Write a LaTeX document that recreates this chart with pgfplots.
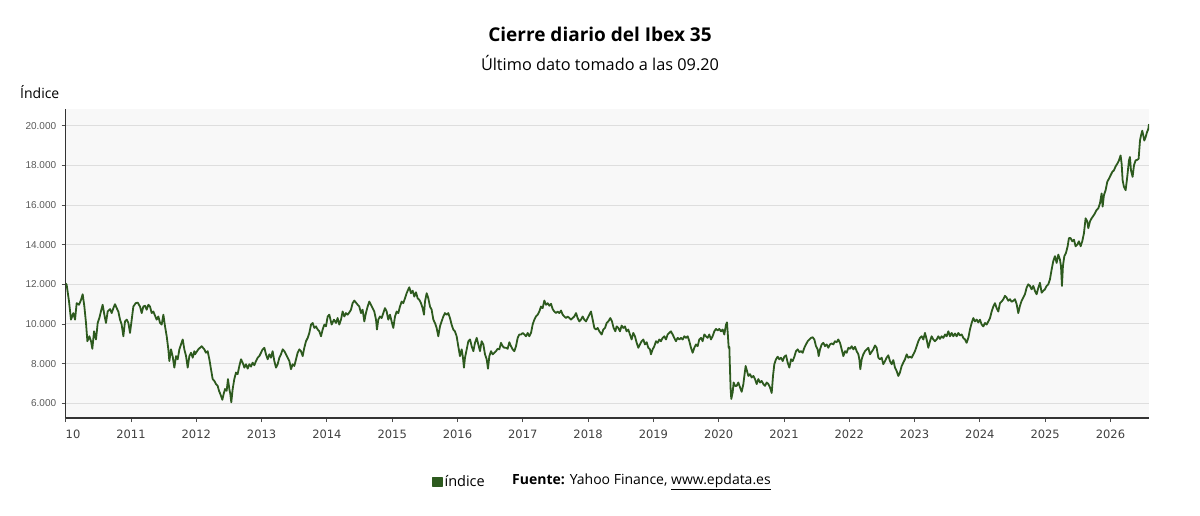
\documentclass[border=0pt]{standalone}
\usepackage{fontspec}
\setmainfont{Open Sans}
\newfontfamily\tickfont{Liberation Sans}
\newfontfamily\xtickfont{DejaVu Sans}
\usepackage{pgfplots}
\pgfplotsset{compat=1.18}
\definecolor{ibex}{HTML}{2D5A1E}
\definecolor{plotbg}{RGB}{248,248,248}
\definecolor{gridc}{RGB}{222,222,222}
\begin{document}
\begin{tikzpicture}[x=1pt,y=1pt]
\path[use as bounding box] (0pt,0pt) rectangle (1200pt,515pt);
\node[font=\fontsize{19}{22}\selectfont\bfseries] at (600pt,481pt) {Cierre diario del Ibex 35};
\node[font=\fontsize{16.3}{19}\selectfont] at (600pt,452pt) {Último dato tomado a las 09.20};
\node[font=\fontsize{14}{16}\selectfont, anchor=west, inner sep=0pt] at (20pt,423pt) {Índice};
\node[font=\fontsize{14}{16}\selectfont, anchor=west, inner sep=0pt] at (512pt,33pt) {\textbf{Fuente:} Yahoo Finance, \underline{www.epdata.es}};
\begin{axis}[
  at={(65.7pt,97pt)}, anchor=south west,
  width=1083.3pt, height=309pt, scale only axis,
  xmin=2010, xmax=2026.59, ymin=5259, ymax=20842,
  axis x line*=bottom, axis y line*=left,
  axis line style={-},
  x axis line style={draw=black!80, line width=1.5pt},
  y axis line style={draw=black!80, line width=1.5pt},
  axis background/.style={fill=plotbg},
  ymajorgrids, major grid style={draw=gridc, line width=1pt},
  ytick={6000,8000,...,20000},
  scaled y ticks=false,
  xtick={2010,2011,...,2026},
  xticklabels={\phantom{20}10,2011,2012,2013,2014,2015,2016,2017,2018,2019,2020,2021,2022,2023,2024,2025,2026},
  tick align=outside,
  major tick length=4pt,
  tick style={draw=black!70, line width=0.8pt},
  /pgf/number format/assume math mode=true,
  /pgf/number format/.cd, 1000 sep={.}, /pgfplots/.cd,
  yticklabel style={font=\tickfont\fontsize{10}{12}\selectfont, text=black!65, xshift=-2pt},
  xticklabel style={font=\xtickfont\fontsize{11.5}{13}\selectfont, text=black!75, yshift=-4pt},
  legend style={at={(axis description cs:0.335,-0.207)}, anchor=west, draw=none, fill=none, font=\fontsize{14.5}{16}\selectfont},
  legend image code/.code={\fill[ibex] (0pt,-4.5pt) rectangle (9pt,4.5pt);},
]
\addplot[ibex, line width=1.8pt, line join=round] coordinates {
(2010.000,12050) (2010.015,11970) (2010.051,11130) (2010.081,10220) (2010.117,10550) (2010.143,10220) (2010.168,11050) (2010.204,10970) (2010.235,11220) (2010.260,11500) (2010.286,10880) (2010.311,10050) (2010.332,9130) (2010.362,9380) (2010.388,9130) (2010.408,8750) (2010.434,9630) (2010.464,9220) (2010.490,10050) (2010.515,10300) (2010.546,10720) (2010.566,10970) (2010.592,10470) (2010.617,10050) (2010.643,10630) (2010.679,10750) (2010.704,10550) (2010.730,10800) (2010.755,11000) (2010.781,10800) (2010.806,10630) (2010.832,10220) (2010.857,9970) (2010.883,9380) (2010.908,10130) (2010.934,10220) (2010.960,10050) (2010.985,9550) (2011.011,10220) (2011.036,10880) (2011.072,11050) (2011.102,11080) (2011.138,10880) (2011.164,10550) (2011.189,10880) (2011.215,10920) (2011.240,10720) (2011.266,10970) (2011.291,10880) (2011.317,10550) (2011.342,10630) (2011.368,10420) (2011.393,10220) (2011.419,10380) (2011.445,10050) (2011.470,9970) (2011.496,10470) (2011.521,9880) (2011.547,9380) (2011.572,8720) (2011.587,8130) (2011.613,8720) (2011.639,8350) (2011.664,7800) (2011.690,8380) (2011.715,8220) (2011.741,8720) (2011.766,8970) (2011.792,9220) (2011.817,8720) (2011.843,8380) (2011.868,7800) (2011.894,8380) (2011.919,8550) (2011.945,8300) (2011.970,8630)
(2011.980,8470) (2012.031,8720) (2012.082,8880) (2012.123,8720) (2012.148,8550) (2012.174,8630) (2012.200,8220) (2012.225,7720) (2012.251,7220) (2012.276,7130) (2012.302,6970) (2012.327,6880) (2012.348,6630) (2012.378,6380) (2012.399,6180) (2012.419,6470) (2012.440,6720) (2012.465,6630) (2012.485,7220) (2012.506,6720) (2012.521,6470) (2012.536,6050) (2012.557,6720) (2012.582,7220) (2012.608,7550) (2012.633,7470) (2012.659,7880) (2012.685,8220) (2012.710,8050) (2012.736,7800) (2012.761,7970) (2012.787,7750) (2012.812,7970) (2012.838,7850) (2012.863,8050) (2012.889,7920) (2012.914,8130) (2012.940,8300) (2012.965,8380) (2012.991,8550) (2013.016,8720) (2013.042,8800) (2013.067,8470) (2013.093,8220) (2013.118,8470) (2013.144,8300) (2013.169,8630) (2013.195,8130) (2013.221,7800) (2013.246,7970) (2013.272,8300) (2013.297,8470) (2013.323,8720) (2013.348,8630) (2013.374,8470) (2013.399,8300) (2013.425,8130) (2013.450,7720) (2013.476,7970) (2013.501,7880) (2013.527,8220) (2013.552,8550) (2013.578,8720) (2013.603,8630) (2013.629,8380) (2013.654,8800) (2013.680,9130) (2013.706,9300) (2013.731,9550) (2013.757,9970) (2013.782,10050) (2013.808,9800) (2013.833,9880) (2013.859,9720) (2013.884,9630) (2013.910,9380) (2013.935,9720) (2013.961,9970) (2013.986,9880) (2014.012,10380) (2014.037,10470)
(2014.073,9970) (2014.108,10220) (2014.139,10050) (2014.164,10300) (2014.190,9970) (2014.216,10220) (2014.241,10630) (2014.267,10380) (2014.292,10550) (2014.318,10470) (2014.343,10580) (2014.369,10720) (2014.394,11050) (2014.420,11180) (2014.445,11080) (2014.471,10970) (2014.496,10880) (2014.522,10550) (2014.547,10720) (2014.573,10130) (2014.598,10550) (2014.624,10880) (2014.649,11130) (2014.675,10970) (2014.700,10800) (2014.726,10630) (2014.752,10220) (2014.767,9720) (2014.787,10220) (2014.813,10380) (2014.838,10300) (2014.864,10550) (2014.889,10800) (2014.915,10630) (2014.940,10220) (2014.966,10470) (2014.991,10130) (2015.017,9800) (2015.043,10380) (2015.068,10630) (2015.094,10550) (2015.119,10880) (2015.145,11130) (2015.170,11050) (2015.196,11300) (2015.221,11550) (2015.247,11750) (2015.262,11850) (2015.288,11550) (2015.313,11680) (2015.339,11380) (2015.364,11600) (2015.390,11300) (2015.415,11220) (2015.441,11050) (2015.466,10800) (2015.487,10470) (2015.502,11130) (2015.528,11550) (2015.553,11300) (2015.579,10880) (2015.604,10720) (2015.630,10220) (2015.655,10050) (2015.681,9800) (2015.706,9380) (2015.732,9880) (2015.757,10130) (2015.783,10380) (2015.808,10550) (2015.834,10470) (2015.859,10550) (2015.885,10300) (2015.910,9970) (2015.936,9720) (2015.961,9630) (2015.987,9380) (2016.012,8880) (2016.038,8380) (2016.064,8720) (2016.084,8300) (2016.099,7800)
(2016.115,8300) (2016.141,8720) (2016.166,9130) (2016.192,9220) (2016.217,8880) (2016.243,8630) (2016.268,9050) (2016.294,9300) (2016.319,8970) (2016.345,8630) (2016.370,9130) (2016.396,8970) (2016.421,8470) (2016.447,8220) (2016.467,7750) (2016.488,8380) (2016.513,8630) (2016.539,8470) (2016.564,8550) (2016.590,8630) (2016.615,8750) (2016.641,8720) (2016.666,9050) (2016.692,8880) (2016.717,8800) (2016.743,8800) (2016.768,8750) (2016.794,9080) (2016.819,8880) (2016.845,8720) (2016.871,8630) (2016.896,8880) (2016.922,9300) (2016.947,9470) (2016.973,9470) (2016.998,9550) (2017.024,9470) (2017.049,9380) (2017.075,9550) (2017.100,9380) (2017.126,9550) (2017.151,9970) (2017.177,10220) (2017.202,10380) (2017.228,10470) (2017.253,10630) (2017.279,10880) (2017.304,10800) (2017.330,11180) (2017.355,10970) (2017.381,11050) (2017.407,10920) (2017.432,11020) (2017.458,10750) (2017.483,10630) (2017.509,10550) (2017.534,10630) (2017.560,10550) (2017.585,10680) (2017.611,10470) (2017.636,10380) (2017.662,10300) (2017.687,10380) (2017.713,10300) (2017.738,10220) (2017.764,10300) (2017.789,10380) (2017.815,10550) (2017.840,10300) (2017.866,10130) (2017.891,10220) (2017.917,10380) (2017.942,10220) (2017.968,10130) (2017.994,10300) (2018.019,10470) (2018.045,10630) (2018.070,10220) (2018.096,9800) (2018.121,9720) (2018.147,9800) (2018.172,9630)
(2018.208,9470) (2018.233,9720) (2018.259,9800) (2018.284,10050) (2018.310,10130) (2018.340,10300) (2018.366,10130) (2018.391,9800) (2018.417,9630) (2018.437,9880) (2018.463,9800) (2018.488,9630) (2018.514,9920) (2018.539,9800) (2018.565,9880) (2018.590,9630) (2018.616,9720) (2018.641,9470) (2018.667,9220) (2018.692,9550) (2018.718,9380) (2018.744,9050) (2018.769,8800) (2018.795,8970) (2018.820,9130) (2018.846,9220) (2018.871,8970) (2018.897,9080) (2018.922,8800) (2018.948,8720) (2018.963,8470) (2018.989,8720) (2019.014,8880) (2019.040,9130) (2019.065,9050) (2019.091,9220) (2019.116,9130) (2019.142,9300) (2019.167,9380) (2019.193,9220) (2019.218,9470) (2019.244,9550) (2019.269,9630) (2019.295,9470) (2019.320,9300) (2019.346,9130) (2019.371,9300) (2019.397,9220) (2019.423,9300) (2019.448,9220) (2019.474,9380) (2019.499,9300) (2019.525,9380) (2019.550,9130) (2019.576,8800) (2019.601,8550) (2019.627,8800) (2019.652,8970) (2019.678,8880) (2019.703,9220) (2019.729,9300) (2019.754,9130) (2019.780,9470) (2019.805,9380) (2019.831,9300) (2019.856,9470) (2019.882,9220) (2019.907,9380) (2019.933,9630) (2019.958,9750) (2019.984,9680) (2020.010,9750) (2020.035,9630) (2020.061,9720) (2020.086,9470) (2020.112,9970) (2020.127,10080) (2020.142,9380) (2020.153,8800) (2020.163,8850) (2020.173,7720) (2020.183,6720) (2020.193,6220) (2020.214,6550) (2020.229,7050) (2020.250,6880)
(2020.276,6880) (2020.301,7050) (2020.327,6800) (2020.352,6580) (2020.378,6970) (2020.393,7380) (2020.413,7880) (2020.434,7630) (2020.454,7380) (2020.480,7470) (2020.505,7300) (2020.531,7380) (2020.556,7220) (2020.582,6970) (2020.607,7220) (2020.633,7050) (2020.658,7130) (2020.684,6970) (2020.709,6880) (2020.735,7050) (2020.761,6970) (2020.786,6800) (2020.812,6520) (2020.832,7380) (2020.852,7970) (2020.878,8220) (2020.903,8350) (2020.929,8220) (2020.954,8300) (2020.980,8130) (2021.005,8350) (2021.031,8420) (2021.057,8050) (2021.082,7800) (2021.108,8220) (2021.133,8130) (2021.159,8350) (2021.184,8630) (2021.210,8720) (2021.235,8580) (2021.261,8630) (2021.286,8550) (2021.312,8800) (2021.337,8970) (2021.363,9130) (2021.388,9220) (2021.414,9300) (2021.439,9330) (2021.465,9220) (2021.490,8880) (2021.516,8720) (2021.531,8380) (2021.552,8720) (2021.577,8970) (2021.603,9050) (2021.628,8880) (2021.654,8970) (2021.679,8800) (2021.705,8970) (2021.730,9020) (2021.756,8970) (2021.781,9130) (2021.807,9080) (2021.832,9220) (2021.858,9050) (2021.884,8720) (2021.909,8380) (2021.935,8630) (2021.960,8550) (2021.986,8800) (2022.011,8750) (2022.037,8880) (2022.062,8720) (2022.088,8850) (2022.113,8630) (2022.139,8470) (2022.154,8220) (2022.169,7720) (2022.190,8220) (2022.215,8470) (2022.241,8630) (2022.266,8720) (2022.292,8800) (2022.317,8470)
(2022.368,8720) (2022.394,8920) (2022.419,8800) (2022.445,8300) (2022.470,8220) (2022.496,8300) (2022.521,7970) (2022.547,8130) (2022.572,8300) (2022.598,8420) (2022.623,8130) (2022.649,7970) (2022.674,8180) (2022.700,7800) (2022.725,7630) (2022.751,7380) (2022.776,7550) (2022.802,7880) (2022.827,8050) (2022.853,8220) (2022.879,8470) (2022.904,8300) (2022.930,8350) (2022.955,8300) (2022.981,8470) (2023.006,8630) (2023.032,8880) (2023.057,9130) (2023.083,9300) (2023.108,9380) (2023.134,9220) (2023.159,9550) (2023.185,9220) (2023.210,8800) (2023.236,9130) (2023.261,9380) (2023.287,9220) (2023.312,9130) (2023.338,9220) (2023.363,9380) (2023.389,9250) (2023.415,9380) (2023.440,9300) (2023.466,9470) (2023.491,9380) (2023.517,9630) (2023.542,9380) (2023.568,9550) (2023.593,9380) (2023.619,9520) (2023.644,9380) (2023.670,9550) (2023.695,9420) (2023.721,9470) (2023.746,9300) (2023.772,9220) (2023.797,9050) (2023.823,9300) (2023.848,9720) (2023.874,10050) (2023.900,10300) (2023.925,10130) (2023.951,10220) (2023.976,10080) (2024.002,10220) (2024.027,9970) (2024.053,9880) (2024.078,10050) (2024.104,9970) (2024.129,10130) (2024.155,10300) (2024.180,10630) (2024.206,10880) (2024.231,11050) (2024.257,10800) (2024.282,10630) (2024.308,11050) (2024.333,11130) (2024.359,11250)
(2024.384,11420) (2024.410,11330) (2024.435,11170) (2024.461,11250) (2024.486,11120) (2024.512,11170) (2024.537,11250) (2024.563,11000) (2024.588,10550) (2024.614,10920) (2024.639,11170) (2024.665,11330) (2024.690,11500) (2024.716,11830) (2024.741,12000) (2024.767,11920) (2024.792,11750) (2024.818,11920) (2024.843,11670) (2024.869,11500) (2024.895,11830) (2024.920,12080) (2024.946,11580) (2024.971,11670) (2024.997,11750) (2025.022,11920) (2025.048,12000) (2025.073,12250) (2025.099,12750) (2025.124,13170) (2025.150,13420) (2025.175,13080) (2025.201,13500) (2025.226,13250) (2025.242,12920) (2025.257,11920) (2025.272,12920) (2025.293,13420) (2025.318,13580) (2025.344,13920) (2025.364,14330) (2025.390,14330) (2025.415,14170) (2025.441,14250) (2025.466,13920) (2025.492,14000) (2025.517,14170) (2025.543,13920) (2025.568,14170) (2025.594,14580) (2025.619,15330) (2025.645,15170) (2025.660,14830) (2025.686,15170) (2025.711,15330) (2025.737,15450) (2025.762,15580) (2025.788,15750) (2025.813,15830) (2025.839,16080) (2025.864,16580) (2025.880,15920) (2025.900,16500) (2025.926,16750) (2025.951,17170) (2025.977,17330) (2026.002,17500) (2026.028,17670) (2026.053,17750) (2026.079,17950) (2026.104,18080) (2026.130,18250) (2026.155,18500) (2026.171,18080) (2026.186,17250) (2026.206,16920) (2026.232,16750) (2026.257,17420) (2026.283,18250) (2026.298,18420) (2026.314,17750) (2026.339,17420) (2026.360,18000) (2026.385,18250) (2026.411,18280) (2026.431,18330) (2026.452,19250) (2026.467,19500) (2026.487,19750) (2026.503,19500) (2026.518,19250) (2026.538,19420) (2026.559,19670) (2026.579,19830) (2026.590,20080)
};
\addlegendentry{índice}
\end{axis}
\end{tikzpicture}
\end{document}
